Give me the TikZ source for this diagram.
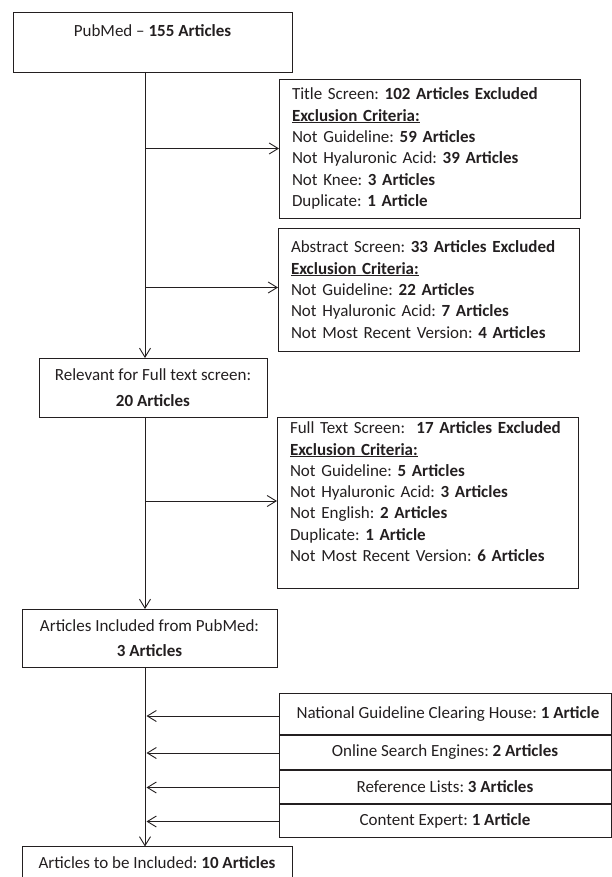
\documentclass[tikz,border=0pt]{standalone}
\usepackage{fontspec}
\setmainfont{Carlito}
\usetikzlibrary{arrows.meta}
\definecolor{ink}{HTML}{231F20}
\frenchspacing
\begin{document}
\begin{tikzpicture}[x=1pt,y=-1pt,
  box/.style={draw=ink, line width=0.9pt, inner sep=0pt, outer sep=0pt, text=ink,
    font=\fontsize{17}{21.3}\selectfont\frenchspacing},
  lbox/.style={box, align=left, inner xsep=13pt},
  cbox/.style={box, align=center},
  arr/.style={draw=ink, line width=0.9pt, -{Straight Barb[length=9pt,width=11pt,line width=0.9pt]}}
]
\useasboundingbox (0,0) rectangle (612,877);
\coordinate (spine) at (145,0);

\node[cbox, minimum width=279pt, minimum height=60pt] (pub) at (152.5,42)
  {PubMed -- \textbf{155 Articles}\\[-5pt] \strut};

\node[lbox, text width=275pt, minimum height=139pt] (title) at (429.5,148.5)
  {Title Screen: \textbf{102 Articles Excluded}\\
   \underline{\textbf{Exclusion Criteria:}}\\
   Not Guideline: \textbf{59 Articles}\\
   Not Hyaluronic Acid: \textbf{39 Articles}\\
   Not Knee: \textbf{3 Articles}\\
   Duplicate: \textbf{1 Article}};

\node[lbox, text width=275pt, minimum height=123pt] (abs) at (428.5,289.5)
  {Abstract Screen: \textbf{33 Articles Excluded}\\
   \underline{\textbf{Exclusion Criteria:}}\\
   Not Guideline: \textbf{22 Articles}\\
   Not Hyaluronic Acid: \textbf{7 Articles}\\
   Not Most Recent Version: \textbf{4 Articles}};

\node[cbox, minimum width=228pt, minimum height=59pt] (rel) at (153,387.5)
  {Relevant for Full text screen:\\[4.5pt] \textbf{20 Articles}};

\node[lbox, text width=275pt, minimum height=171pt] (full) at (427.5,502.5)
  {Full Text Screen:\ \ \textbf{17 Articles Excluded}\\
   \underline{\textbf{Exclusion Criteria:}}\\
   Not Guideline: \textbf{5 Articles}\\
   Not Hyaluronic Acid: \textbf{3 Articles}\\
   Not English: \textbf{2 Articles}\\
   Duplicate: \textbf{1 Article}\\
   Not Most Recent Version: \textbf{6 Articles}\\[-6pt]\strut};

\node[cbox, minimum width=255pt, minimum height=58pt] (inc) at (149.5,638)
  {Articles Included from PubMed:\\[4pt] \textbf{3 Articles}};

\node[cbox, minimum width=332pt, minimum height=41pt] (nat) at (445,713.5)
  {\hspace*{6pt}National Guideline Clearing House: \textbf{1 Article}};
\node[cbox, minimum width=332pt, minimum height=34pt] (onl) at (445,752)
  {Online Search Engines: \textbf{2 Articles}};
\node[cbox, minimum width=332pt, minimum height=33pt] (ref) at (445,786.5)
  {Reference Lists: \textbf{3 Articles}};
\node[cbox, minimum width=332pt, minimum height=33pt] (con) at (445,820.5)
  {Content Expert: \textbf{1 Article}};

\node[cbox, minimum width=270pt, minimum height=32pt] (fin) at (157,862.5)
  {Articles to be Included: \textbf{10 Articles}};

% spine
\draw[arr] (pub.south -| spine) -- (rel.north -| spine);
\draw[arr] (rel.south -| spine) -- (inc.north -| spine);
\draw[arr] (inc.south -| spine) -- (fin.north -| spine);

% exclusions
\draw[arr] (title.west -| spine) -- (title.west);
\draw[arr] ([yshift=2pt]abs.west -| spine) -- ([yshift=2pt]abs.west);
\draw[arr] ([yshift=1.5pt]full.west -| spine) -- ([yshift=1.5pt]full.west);

% additional sources
\draw[arr, shorten >=1.5pt] ([yshift=-2.5pt]nat.west) -- ([yshift=-2.5pt]nat.west -| spine);
\draw[arr, shorten >=1.5pt] ([yshift=-1pt]onl.west) -- ([yshift=-1pt]onl.west -| spine);
\draw[arr, shorten >=1.5pt] ([yshift=-1pt]ref.west) -- ([yshift=-1pt]ref.west -| spine);
\draw[arr, shorten >=1.5pt] ([yshift=-1pt]con.west) -- ([yshift=-1pt]con.west -| spine);
\end{tikzpicture}
\end{document}
